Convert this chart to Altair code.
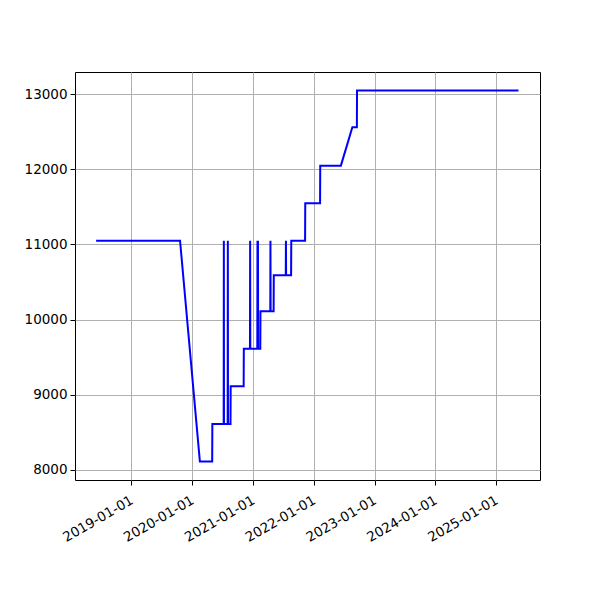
import altair as alt
import pandas as pd

dates = [
    "2018-06-04", "2019-10-21", "2020-02-17", "2020-05-01", "2020-05-02",
    "2020-07-09", "2020-07-10", "2020-07-11", "2020-08-02", "2020-08-03",
    "2020-08-04", "2020-08-19", "2020-08-20", "2020-11-06", "2020-11-07",
    "2020-12-14", "2020-12-15", "2020-12-16", "2021-01-27", "2021-01-28",
    "2021-01-29", "2021-01-30", "2021-01-31", "2021-02-01", "2021-02-14",
    "2021-02-15", "2021-04-15", "2021-04-16", "2021-04-17", "2021-05-05",
    "2021-05-06", "2021-07-17", "2021-07-18", "2021-07-19", "2021-08-18",
    "2021-08-19", "2021-11-10", "2021-11-11", "2022-02-08", "2022-02-09",
    "2022-06-13", "2022-08-21", "2022-09-17", "2022-09-18", "2025-05-15",
]
values = [
    11050, 11050, 8110, 8110, 8610,
    8610, 11050, 8610, 8610, 11050,
    8610, 8610, 9110, 9110, 9610,
    9610, 11050, 9610, 9610, 11050,
    9610, 9610, 11050, 9610, 9610,
    10110, 10110, 11050, 10110, 10110,
    10590, 10590, 11050, 10590, 10590,
    11050, 11050, 11550, 11550, 12050,
    12050, 12560, 12560, 13050, 13050,
]
tick_years = [2019, 2020, 2021, 2022, 2023, 2024, 2025]
y_ticks = [8000, 9000, 10000, 11000, 12000, 13000]

df = pd.DataFrame({"date": dates, "value": values})

chart = alt.Chart(df).mark_line(color="#0000ff", strokeWidth=2, clip=True).encode(
    x=alt.X(
        "date:T",
        scale=alt.Scale(
            type="utc",
            domain=[
                alt.DateTime(year=2018, month=1, date=28, utc=True),
                alt.DateTime(year=2025, month=9, date=21, utc=True),
            ],
        ),
        axis=alt.Axis(
            title=None,
            values=[alt.DateTime(year=y, month=1, date=1, utc=True) for y in tick_years],
            format="%Y-%m-%d",
            labelAngle=-30,
            labelAlign="right",
            labelBaseline="top",
            labelFontSize=13.5,
            labelFont="DejaVu Sans",
            labelColor="black",
            labelOverlap=False,
            labelOffset=-3,
            tickColor="black",
            tickSize=5,
            domain=False,
            gridColor="#b0b0b0",
            gridWidth=1,
            labelPadding=8,
        ),
    ),
    y=alt.Y(
        "value:Q",
        scale=alt.Scale(domain=[7863, 13297], nice=False, zero=False),
        axis=alt.Axis(
            title=None,
            values=y_ticks,
            format="d",
            labelFontSize=13.5,
            labelFont="DejaVu Sans",
            labelColor="black",
            labelOverlap=False,
            tickColor="black",
            tickSize=5,
            domain=False,
            gridColor="#b0b0b0",
            gridWidth=1,
            labelPadding=3,
        ),
    ),
).properties(
    width=465,
    height=408,
    autosize=alt.AutoSizeParams(type="none"),
    padding={"left": 67, "top": 64, "right": 52, "bottom": 112},
).configure(
    background="white",
).configure_view(
    stroke="black",
    strokeWidth=1,
)

chart.save("out.html", embed_options={"renderer": "svg", "actions": False})
